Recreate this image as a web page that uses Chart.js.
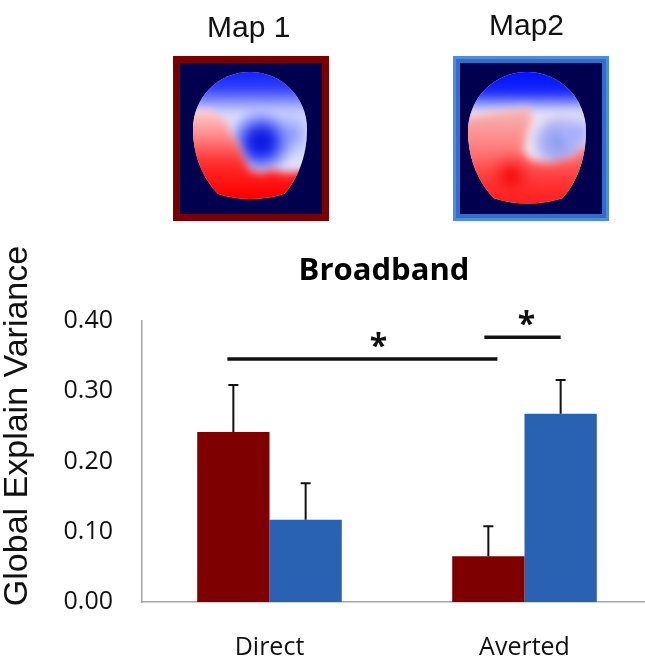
<!DOCTYPE html>
<html>
<head>
<meta charset="utf-8">
<script src="https://cdn.jsdelivr.net/npm/chart.js@4"></script>
<style>
  html, body { margin:0; padding:0; background:#fff; }
  #wrap { position:relative; width:645px; height:657px; overflow:hidden; }
  #chart { position:absolute; left:0; top:0; }
  .maplabel { position:absolute; font-family:"Liberation Sans", Arial, sans-serif; font-size:30px; line-height:30px; color:#111; white-space:nowrap; }
  .map { position:absolute; }
</style>
</head>
<body>
<div id="wrap">
  <canvas id="chart" width="652" height="657"></canvas>
  <div class="maplabel" id="lab1" style="left:207px; top:12px;">Map 1</div>
  <div class="maplabel" id="lab2" style="left:489px; top:10px;">Map2</div>
  <canvas class="map" id="map1" width="156" height="165" style="left:173px; top:56px;"></canvas>
  <canvas class="map" id="map2" width="156" height="165" style="left:453px; top:56px;"></canvas>
</div>
<script>
// ---- data ----
const categories = ["Direct", "Averted"];
const seriesNames = ["Map 1", "Map2"];
const map1Vals = [0.242, 0.065];
const map2Vals = [0.117, 0.268];
const map1Err = [0.067, 0.043];
const map2Err = [0.052, 0.048];
const yTicks = [0.00, 0.10, 0.20, 0.30, 0.40];
// significance: [category, series] of each end, level on the y scale
const sigFrom = [[0, 0], [1, 0]];
const sigTo = [[1, 0], [1, 1]];
const sigLevel = [0.346, 0.377];

const RED = "#7f0000";
const BLUE = "#2962b3";
const TICK_FONT = { family: "'Open Sans', sans-serif", size: 25 };

const errs = [map1Err, map2Err];

const decor = {
  id: "decor",
  afterDatasetsDraw(chart){
    const ctx = chart.ctx;
    const y = chart.scales.y;
    ctx.save();
    // error bars (upper only)
    ctx.strokeStyle = "#111";
    ctx.lineWidth = 2;
    chart.data.datasets.forEach((ds, i) => {
      const meta = chart.getDatasetMeta(i);
      meta.data.forEach((bar, j) => {
        const top = y.getPixelForValue(ds.data[j] + errs[i][j]);
        ctx.beginPath();
        ctx.moveTo(bar.x, bar.y);
        ctx.lineTo(bar.x, top);
        ctx.moveTo(bar.x - 5, top);
        ctx.lineTo(bar.x + 5, top);
        ctx.stroke();
      });
    });
    // significance lines + stars
    ctx.lineWidth = 3.5;
    ctx.fillStyle = "#111";
    ctx.font = "bold 32px 'Open Sans', sans-serif";
    ctx.textAlign = "center";
    ctx.textBaseline = "alphabetic";
    sigLevel.forEach((lv, k) => {
      const a = chart.getDatasetMeta(sigFrom[k][1]).data[sigFrom[k][0]];
      const b = chart.getDatasetMeta(sigTo[k][1]).data[sigTo[k][0]];
      const py = y.getPixelForValue(lv);
      const x0 = a.x - (k === 0 ? 6 : 4), x1 = b.x + (k === 0 ? 9 : 0);
      ctx.beginPath();
      ctx.moveTo(x0, py);
      ctx.lineTo(x1, py);
      ctx.stroke();
      const sx = k === 0 ? (x0 + x1) / 2 + 16 : (x0 + x1) / 2 + 4;
      ctx.fillText("*", sx, py - 2);
    });
    ctx.restore();
  },
  afterDraw(chart){
    const ctx = chart.ctx;
    ctx.save();
    ctx.fillStyle = "#000";
    ctx.font = "bold 31px 'Open Sans', sans-serif";
    ctx.textAlign = "center";
    ctx.textBaseline = "alphabetic";
    ctx.fillText("Broadband", 384, 280);
    // y axis title
    ctx.translate(27, 426);
    ctx.rotate(-Math.PI / 2);
    ctx.font = "34px 'Liberation Sans', Arial, sans-serif";
    ctx.fillStyle = "#111";
    ctx.fillText("Global Explain Variance", 0, 0);
    ctx.restore();
  }
};

new Chart(document.getElementById("chart"), {
  type: "bar",
  data: {
    labels: categories,
    datasets: [
      { label: seriesNames[0], data: map1Vals, backgroundColor: RED, categoryPercentage: 0.567, barPercentage: 1.0 },
      { label: seriesNames[1], data: map2Vals, backgroundColor: BLUE, categoryPercentage: 0.567, barPercentage: 1.0 }
    ]
  },
  options: {
    responsive: false,
    animation: false,
    layout: { padding: { top: 321, left: 0, right: 0, bottom: 0 } },
    plugins: { legend: { display: false }, tooltip: { enabled: false }, title: { display: false } },
    scales: {
      x: {
        grid: { display: false, drawTicks: false },
        border: { color: "#a6a6a6", width: 1.5 },
        ticks: { font: TICK_FONT, color: "#111", padding: 31 },
        afterFit(s){ s.height = 55; }
      },
      y: {
        min: yTicks[0],
        max: yTicks[yTicks.length - 1],
        afterBuildTicks(s){ s.ticks = yTicks.map(v => ({ value: v })); },
        grid: { display: false, drawTicks: false },
        border: { color: "#a6a6a6", width: 1.5 },
        ticks: { font: TICK_FONT, color: "#111", padding: 29, callback: v => Number(v).toFixed(2) },
        afterFit(s){ s.width = 142; }
      }
    }
  },
  plugins: [decor]
});

// ---- topographic map pictures (decoration) ----
function headPath(ctx, cx, cy, r){
  ctx.beginPath();
  ctx.arc(cx, cy, r, Math.PI, Math.PI * 2);
  ctx.bezierCurveTo(cx + r, cy + 0.5 * r, cx + 0.82 * r, cy + 0.9 * r, cx + 0.6 * r, cy + 1.14 * r);
  ctx.quadraticCurveTo(cx, cy + 1.32 * r, cx - 0.56 * r, cy + 1.14 * r);
  ctx.bezierCurveTo(cx - 0.8 * r, cy + 0.9 * r, cx - r, cy + 0.5 * r, cx - r, cy);
  ctx.closePath();
}

function poly(ctx, pts){
  ctx.beginPath();
  ctx.moveTo(pts[0][0], pts[0][1]);
  for(let i = 1; i < pts.length; i++) ctx.lineTo(pts[i][0], pts[i][1]);
  ctx.closePath();
}

function blob(ctx, x, y, r, stops){
  const g = ctx.createRadialGradient(x, y, 0, x, y, r);
  stops.forEach(s => g.addColorStop(s[0], s[1]));
  ctx.fillStyle = g;
  ctx.fillRect(x - r, y - r, 2 * r, 2 * r);
}

function drawMap(id, kind){
  const c = document.getElementById(id);
  const ctx = c.getContext("2d");
  const w = c.width, h = c.height;
  if(kind === 1){
    ctx.fillStyle = "#7a0000";
    ctx.fillRect(0, 0, w, h);
  } else {
    ctx.fillStyle = "#2f6fca";
    ctx.fillRect(0, 0, w, h);
    ctx.strokeStyle = "#4f8ddc";
    ctx.lineWidth = 3;
    ctx.strokeRect(1.5, 1.5, w - 3, h - 3);
  }
  ctx.fillStyle = "#00004f";
  ctx.fillRect(7, 7, w - 14, h - 14);

  const cx = kind === 1 ? 77 : 74, cy = kind === 1 ? 73 : 75, r = kind === 1 ? 57 : 59;
  ctx.save();
  headPath(ctx, cx, cy, r);
  ctx.clip();
  ctx.fillStyle = kind === 1 ? "#e2e4ff" : "#f3eaf2";
  ctx.fillRect(0, 0, w, h);
  ctx.filter = "blur(4px)";
  if(kind === 1){
    let g = ctx.createLinearGradient(0, 14, 0, 66);
    g.addColorStop(0, "#0f1fff");
    g.addColorStop(0.35, "#3040ff");
    g.addColorStop(0.7, "#a8b0ff");
    g.addColorStop(1, "rgba(230,232,255,0)");
    ctx.fillStyle = g;
    ctx.fillRect(0, 0, w, 70);
    blob(ctx, 118, 78, 30, [[0, "rgba(110,125,255,0.85)"], [1, "rgba(180,190,255,0)"]]);
    blob(ctx, 88, 86, 36, [[0, "#0810d8"], [0.35, "#1c2cee"], [0.7, "rgba(110,125,250,0.7)"], [1, "rgba(180,190,255,0)"]]);
    poly(ctx, [[0, 54], [20, 54], [38, 54], [53, 64], [58, 77], [65, 87], [70, 100], [77, 114], [87, 117], [100, 114], [113, 117], [160, 113], [160, 200], [0, 200]]);
    g = ctx.createLinearGradient(0, 54, 0, 140);
    g.addColorStop(0, "#ffd0d0");
    g.addColorStop(0.3, "#ff8a8a");
    g.addColorStop(0.6, "#ff3030");
    g.addColorStop(1, "#ff0000");
    ctx.fillStyle = g;
    ctx.fill();
  } else {
    let g = ctx.createLinearGradient(0, 14, 0, 62);
    g.addColorStop(0, "#0010ff");
    g.addColorStop(0.45, "#1424ff");
    g.addColorStop(0.7, "#8a96ff");
    g.addColorStop(1, "rgba(235,230,255,0)");
    ctx.fillStyle = g;
    ctx.fillRect(0, 0, w, 70);
    blob(ctx, 106, 86, 32, [[0, "#8494f0"], [0.6, "rgba(150,160,245,0.7)"], [1, "rgba(200,205,255,0)"]]);
    blob(ctx, 126, 76, 24, [[0, "rgba(150,160,255,0.9)"], [1, "rgba(200,205,255,0)"]]);
    poly(ctx, [[0, 62], [17, 61], [37, 57], [60, 54], [75, 51], [80, 61], [74, 77], [70, 94], [77, 104], [97, 107], [120, 101], [130, 91], [160, 92], [160, 200], [0, 200]]);
    g = ctx.createLinearGradient(0, 54, 0, 145);
    g.addColorStop(0, "#f5b4b4");
    g.addColorStop(0.4, "#ff8080");
    g.addColorStop(0.75, "#ff3a3a");
    g.addColorStop(1, "#ff2020");
    ctx.fillStyle = g;
    ctx.fill();
    blob(ctx, 58, 120, 24, [[0, "#f00000"], [1, "rgba(255,40,40,0)"]]);
  }
  ctx.restore();
}

drawMap("map1", 1);
drawMap("map2", 2);
</script>
</body>
</html>
